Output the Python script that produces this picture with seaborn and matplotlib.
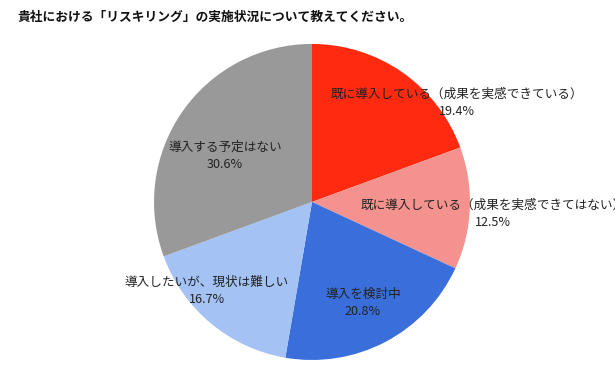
# Pie chart: reskilling status survey
import seaborn as sns
import matplotlib.pyplot as plt

sns.set_theme(style='white')
plt.rcParams['font.family'] = ['Noto Sans CJK JP', 'DejaVu Sans']

title = '貴社における「リスキリング」の実施状況について教えてください。'
categories = [
    '既に導入している（成果を実感できている）',
    '既に導入している（成果を実感できてはない）',
    '導入を検討中',
    '導入したいが、現状は難しい',
    '導入する予定はない',
]
shares = [19.4, 12.5, 20.8, 16.7, 30.6]
colors = ['#ff2a10', '#f4928f', '#3a6fdb', '#a4c2f4', '#999999']

# label centres (data units, pie radius = 1)
label_pos = [(0.918, 0.627), (1.146, -0.076), (0.323, -0.639),
             (-0.665, -0.563), (-0.551, 0.291)]

fig = plt.figure(figsize=(6.15, 3.78), dpi=100)
ax = fig.add_axes([0, 0, 1, 1])
ax.pie(shares, colors=colors, startangle=90, counterclock=False,
       radius=1, center=(0, 0), wedgeprops=dict(linewidth=0))
ax.set_xlim(-1.975, 1.918)
ax.set_ylim(-1.114, 1.278)
ax.set_aspect('auto')
ax.set_axis_off()

for cat, val, (x, y) in zip(categories, shares, label_pos):
    ax.text(x, y, f'{cat}\n{val:.1f}%', ha='center', va='center',
            multialignment='center', fontsize=9.1, color='#222222',
            linespacing=1.35)

fig.text(17 / 615, 1 - 17 / 378, title, ha='left', va='center',
         fontsize=9.2, fontweight='bold', color='#111111')

fig.savefig('out.png', dpi=100)
